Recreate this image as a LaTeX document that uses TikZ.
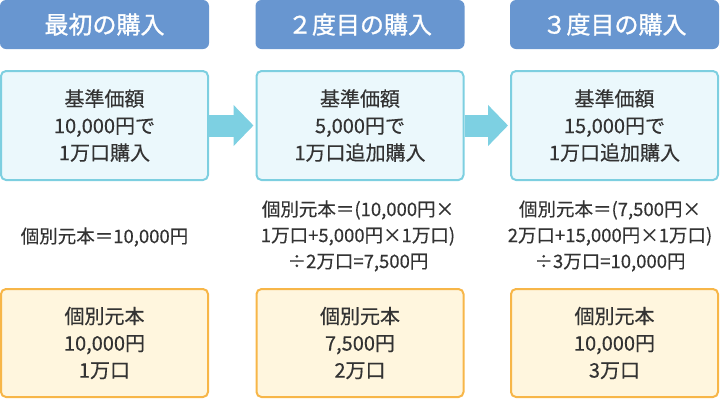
\documentclass[tikz,border=0pt]{standalone}
\usepackage{fontspec}
\setmainfont{Noto Sans CJK JP}[FakeBold=0.4]
\newfontfamily\headfont{Noto Sans CJK JP}[FakeBold=1.2]
\usetikzlibrary{
    arrows.meta,
    positioning
}
\definecolor{headblue}{RGB}{104,150,208}
\definecolor{buyline}{RGB}{125,207,224}
\definecolor{buyfill}{RGB}{235,248,252}
\definecolor{stepcyan}{RGB}{125,208,226}
\definecolor{costline}{RGB}{247,182,72}
\definecolor{costfill}{RGB}{255,246,222}
\definecolor{ink}{RGB}{51,51,51}

\begin{document}
\begin{tikzpicture} [
    x=1pt, y=-1pt,
    header/.style = {fill=headblue, rounded corners=6pt, minimum width=209pt,
        minimum height=49pt, inner sep=0pt, text=white,
        font=\fontsize{24}{28}\headfont},
    buy box/.style = {draw=buyline, fill=buyfill, line width=2pt, rounded corners=5pt,
        minimum width=207pt, minimum height=109pt, inner sep=0pt, align=center,
        text=ink, font=\fontsize{20}{27}\selectfont},
    cost box/.style = {draw=costline, fill=costfill, line width=2pt, rounded corners=5pt,
        minimum width=207pt, minimum height=108pt, inner sep=0pt, align=center,
        text=ink, font=\fontsize{20}{27}\selectfont},
    calc text/.style = {align=center, inner sep=0pt, text=ink,
        font=\fontsize{18.5}{26}\selectfont},
    next step/.style = {stepcyan, line width=22pt, shorten >=2pt,
        -{Triangle[length=20pt,width=40pt]}}
]
    \useasboundingbox (0,0) rectangle (720,400);

    % headers
    \node[header] (head1) at (104.5,24.5) {最初の購入};
    \node[header] (head2) at (360,24.5) {２度目の購入};
    \node[header] (head3) at (614.5,24.5) {３度目の購入};

    % purchases
    \node[buy box] (buy1) at (104.5,125.5) {基準価額\\10,000円で\\1万口購入};
    \node[buy box] (buy2) at (360,125.5) {基準価額\\5,000円で\\1万口追加購入};
    \node[buy box] (buy3) at (614.5,125.5) {基準価額\\15,000円で\\1万口追加購入};

    \draw[next step] (buy1) -- (buy2);
    \draw[next step] (buy2) -- (buy3);

    % calculations
    \node[calc text] (calc1) at (104.5,237) {個別元本＝10,000円};
    \node[calc text] (calc2) at (358,236) {個別元本＝(10,000円×\\1万口+5,000円×1万口)\\÷2万口=7,500円};
    \node[calc text] (calc3) at (610,236) {個別元本＝(7,500円×\\2万口+15,000円×1万口)\\÷3万口=10,000円};

    % individual cost
    \node[cost box] (cost1) at (104.5,343) {個別元本\\10,000円\\1万口};
    \node[cost box] (cost2) at (360,343) {個別元本\\7,500円\\2万口};
    \node[cost box] (cost3) at (614.5,343) {個別元本\\10,000円\\3万口};
\end{tikzpicture}
\end{document}
